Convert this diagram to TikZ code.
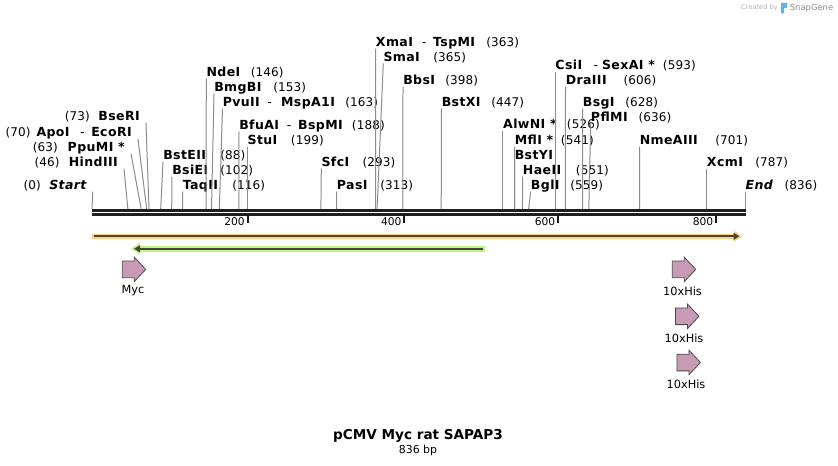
\documentclass[tikz,border=0pt]{standalone}
\usepackage{fontspec}
\setmainfont{DejaVu Sans}
\newfontfamily\numfont[LetterSpace=1]{DejaVu Sans}
\newfontfamily\enzfont[LetterSpace=3]{DejaVu Sans}
\usetikzlibrary{arrows.meta,positioning}

\definecolor{cutgray}{HTML}{8C8C8C}
\definecolor{barorange}{HTML}{FFCF85}
\definecolor{bargreen}{HTML}{BDF58A}
\definecolor{bardark}{HTML}{4A4538}
\definecolor{featpink}{HTML}{C99AB5}
\definecolor{featline}{HTML}{4A4A4A}
\definecolor{snapblue}{HTML}{5AB4E6}

\begin{document}
\begin{tikzpicture}[x=0.75pt,y=-0.75pt,
  enz/.style={font=\enzfont\fontsize{9.4}{11}\selectfont\bfseries, inner sep=0pt,
    text height=6.8pt, text depth=1.5pt, anchor=base west},
  enzl/.style={enz, anchor=base east, inner xsep=4.5pt},
  num/.style={font=\numfont\fontsize{9}{11}\selectfont, inner sep=0pt,
    text height=6.8pt, text depth=1.5pt, anchor=base west},
  cut/.style={cutgray, line width=0.75pt},
  backbone/.style={black!88, line width=2pt},
  rulertick/.style={black!90, line width=1.5pt},
  rulerlbl/.style={font=\fontsize{8}{10}\selectfont, inner sep=0pt, anchor=east},
  featarrow/.style={fill=featpink, draw=featline, line width=0.6pt},
  featlbl/.style={font=\fontsize{8.5}{10}\selectfont, inner sep=0pt}]

  \useasboundingbox (0,0) rectangle (838,466);

  % sites on the backbone
  \coordinate (c0)   at (92,209);
  \coordinate (c46)  at (127.9,209);
  \coordinate (c63)  at (141.2,209);
  \coordinate (c70)  at (146.7,209);
  \coordinate (c73)  at (149.0,209);
  \coordinate (c88)  at (160.7,209);
  \coordinate (c102) at (171.7,209);
  \coordinate (c116) at (182.6,209);
  \coordinate (c146) at (206.0,209);
  \coordinate (c153) at (211.5,209);
  \coordinate (c163) at (219.3,209);
  \coordinate (c188) at (238.8,209);
  \coordinate (c199) at (247.4,209);
  \coordinate (c293) at (320.9,209);
  \coordinate (c313) at (336.5,209);
  \coordinate (c363) at (375.5,209);
  \coordinate (c365) at (377.1,209);
  \coordinate (c398) at (402.9,209);
  \coordinate (c447) at (441.2,209);
  \coordinate (c526) at (502.9,209);
  \coordinate (c541) at (514.6,209);
  \coordinate (c551) at (522.4,209);
  \coordinate (c559) at (528.6,209);
  \coordinate (c593) at (555.2,209);
  \coordinate (c606) at (565.3,209);
  \coordinate (c628) at (582.5,209);
  \coordinate (c636) at (588.8,209);
  \coordinate (c701) at (639.6,209);
  \coordinate (c787) at (706.7,209);
  \coordinate (c836) at (745.3,209);

  % labels left of their line
  \draw (92.7,189.4) node[enzl] (start) {\itshape Start};
  \node[num, left=1.5pt of start] (startn) {(0)};
  \draw (124,166.4) node[enzl] (hind) {HindIII};
  \node[num, left=2pt of hind] (hindn) {(46)};
  \draw (131,151.4) node[enzl] (ppum) {PpuMI *};
  \node[num, left=2.5pt of ppum] (ppumn) {(63)};
  \draw (138,136.9) node[enzl] (apo2) {{\mdseries -}\hspace{5pt}EcoRI};
  \node[enz, left=3pt of apo2] (apo) {ApoI};
  \node[num, left=4pt of apo] (apon) {(70)};
  \draw (146,120.4) node[enzl] (bser) {BseRI};
  \node[num, left=1.5pt of bser] (bsern) {(73)};

  % labels right of their line
  \draw (163,159.4)   node[enz] (bste) {BstEII};
  \draw (220,159.4)   node[num] (bsten) {(88)};
  \draw (172,174.4)   node[enz] (bsie) {BsiEI};
  \draw (220,174.4)   node[num] (bsien) {(102)};
  \draw (182.5,189.4) node[enz] (taq) {TaqII};
  \draw (232,189.4)   node[num] (taqn) {(116)};
  \draw (206.3,76.1)  node[enz] (nde) {NdeI};
  \draw (250.5,76.1)  node[num] (nden) {(146)};
  \draw (214,91.1)    node[enz] (bmgb) {BmgBI};
  \draw (273,91.1)    node[num] (bmgbn) {(153)};
  \draw (222.5,106.1) node[enz] (pvu) {PvuII};
  \draw (267,106.1)   node[enz] (pvu2) {{\mdseries -}\hspace{7pt}MspA1I};
  \draw (345,106.1)   node[num] (pvun) {(163)};
  \draw (239,129.4)   node[enz] (bfua) {BfuAI};
  \draw (286.7,129.4) node[enz] (bfua2) {{\mdseries -}\hspace{5pt}BspMI};
  \draw (351.7,129.4) node[num] (bfuan) {(188)};
  \draw (247.4,144.4) node[enz] (stu) {StuI};
  \draw (290.7,144.4) node[num] (stun) {(199)};
  \draw (321.3,166.1) node[enz] (sfc) {SfcI};
  \draw (362.3,166.1) node[num] (sfcn) {(293)};
  \draw (336.7,189.4) node[enz] (pas) {PasI};
  \draw (380,189.4)   node[num] (pasn) {(313)};
  \draw (375.7,46.4)  node[enz] (xma) {XmaI};
  \draw (421.7,46.4)  node[enz] (xma2) {{\mdseries -}\hspace{5pt}TspMI};
  \draw (486,46.4)    node[num] (xman) {(363)};
  \draw (383.3,61.1)  node[enz] (sma) {SmaI};
  \draw (433,61.1)    node[num] (sman) {(365)};
  \draw (403,84.4)    node[enz] (bbs) {BbsI};
  \draw (445,84.4)    node[num] (bbsn) {(398)};
  \draw (441.5,106.1) node[enz] (bstx) {BstXI};
  \draw (491,106.1)   node[num] (bstxn) {(447)};
  \draw (502.9,128.7) node[enz] (alwn) {AlwNI *};
  \draw (566.7,128.7) node[num] (alwnn) {(526)};
  \draw (514.5,144.4) node[enz] (mfl) {MflI *};
  \draw (560.7,144.4) node[num] (mfln) {(541)};
  \draw (514.5,159.4) node[enz] (bsty) {BstYI};
  \draw (522.7,174.4) node[enz] (hae) {HaeII};
  \draw (575.7,174.4) node[num] (haen) {(551)};
  \draw (530.7,189.4) node[enz] (bgl) {BglI};
  \draw (570,189.4)   node[num] (bgln) {(559)};
  \draw (555.2,69.4)  node[enz] (csi) {CsiI};
  \draw (593.3,69.4)  node[enz] (csi2) {{\mdseries -}\hspace{3pt}SexAI *};
  \draw (662.7,69.4)  node[num] (csin) {(593)};
  \draw (565.5,84.4)  node[enz] (dra) {DraIII};
  \draw (623.3,84.4)  node[num] (dran) {(606)};
  \draw (582.6,106.1) node[enz] (bsg) {BsgI};
  \draw (625,106.1)   node[num] (bsgn) {(628)};
  \draw (590.7,121.7) node[enz] (pflm) {PflMI};
  \draw (638.3,121.7) node[num] (pflmn) {(636)};
  \draw (639.5,144.4) node[enz] (nme) {NmeAIII};
  \draw (715,144.4)   node[num] (nmen) {(701)};
  \draw (706.7,166.7) node[enz] (xcm) {XcmI};
  \draw (755,166.7)   node[num] (xcmn) {(787)};
  \draw (745.3,189.4) node[enz] (end) {\itshape End};
  \draw (784.3,189.4) node[num] (endn) {(836)};

  % cut lines
  \draw[cut] (c0)   -- (start.south east);
  \draw[cut] (c46)  -- (hind.south east);
  \draw[cut] (c63)  -- (ppum.south east);
  \draw[cut] (c70)  -- (apo2.south east);
  \draw[cut] (c73)  -- (bser.south east);
  \draw[cut] (c88)  -- (bste.south west);
  \draw[cut] (c102) -- (bsie.south west);
  \draw[cut] (c116) -- (taq.south west);
  \draw[cut] (c146) -- (nde.south west);
  \draw[cut] (c153) -- (bmgb.south west);
  \draw[cut] (c163) -- (pvu.south west);
  \draw[cut] (c188) -- (bfua.south west);
  \draw[cut] (c199) -- (stu.south west);
  \draw[cut] (c293) -- (sfc.south west);
  \draw[cut] (c313) -- (pas.south west);
  \draw[cut] (c363) -- (xma.south west);
  \draw[cut] (c365) -- (sma.south west);
  \draw[cut] (c398) -- (bbs.south west);
  \draw[cut] (c447) -- (bstx.south west);
  \draw[cut] (c526) -- (alwn.south west);
  \draw[cut] (c541) -- (mfl.south west);
  \draw[cut] (c541) -- (bsty.south west);
  \draw[cut] (c551) -- (hae.south west);
  \draw[cut] (c559) -- (bgl.south west);
  \draw[cut] (c593) -- (csi.south west);
  \draw[cut] (c606) -- (dra.south west);
  \draw[cut] (c628) -- (bsg.south west);
  \draw[cut] (c636) -- (pflm.south west);
  \draw[cut] (c701) -- (nme.south west);
  \draw[cut] (c787) -- (xcm.south west);
  \draw[cut] (c836) -- (end.south west);

  % backbone and ruler
  \draw[backbone] (92,210.3) -- (745.7,210.3);
  \draw[backbone] (92,214.7) -- (745.7,214.7);
  \draw[rulertick] (247.7,215.5) -- (247.7,222.7);
  \draw[rulertick] (404.3,215.5) -- (404.3,222.7);
  \draw[rulertick] (558.3,215.5) -- (558.3,222.7);
  \draw[rulertick] (716,215.5) -- (716,222.7);
  \draw (245,222) node[rulerlbl] (r200) {200};
  \draw (401.7,222) node[rulerlbl] (r400) {400};
  \draw (555.5,222) node[rulerlbl] (r600) {600};
  \draw (713.5,222) node[rulerlbl] (r800) {800};

  % features
  \draw[barorange, line width=3.4pt, -{Triangle[length=6.5pt,width=8pt]}] (92,236.3) -- (742.5,236.3);
  \draw[bardark, line width=1.5pt, -{Triangle[length=4.5pt,width=5.2pt]}] (93.5,236.3) -- (739.5,236.3);
  \draw[bargreen, line width=4.3pt, -{Triangle[length=6.5pt,width=8.5pt]}] (485,248.8) -- (131,248.8);
  \draw[bardark, line width=1.5pt, -{Triangle[length=4.5pt,width=5.2pt]}] (483,248.8) -- (134,248.8);

  \draw[featarrow] (122.3,261.05) -- ++(12,0) -- ++(0,-3.85) -- ++(11.4,12.2) -- ++(-11.4,12.2) -- ++(0,-3.85) -- ++(-12,0) -- cycle;
  \draw[featarrow] (672.3,261.05) -- ++(12,0) -- ++(0,-3.85) -- ++(11.4,12.2) -- ++(-11.4,12.2) -- ++(0,-3.85) -- ++(-12,0) -- cycle;
  \draw[featarrow] (675.5,307.95) -- ++(12,0) -- ++(0,-3.85) -- ++(11.4,12.2) -- ++(-11.4,12.2) -- ++(0,-3.85) -- ++(-12,0) -- cycle;
  \draw[featarrow] (677,354.15) -- ++(12,0) -- ++(0,-3.85) -- ++(11.4,12.2) -- ++(-11.4,12.2) -- ++(0,-3.85) -- ++(-12,0) -- cycle;
  \draw (133,291)   node[featlbl] (myc) {Myc};
  \draw (682.5,291) node[featlbl] (his1) {10xHis};
  \draw (684,338)   node[featlbl] (his2) {10xHis};
  \draw (686,384)   node[featlbl] (his3) {10xHis};

  % title
  \draw (418,436) node[font=\fontsize{10.2}{12}\selectfont\bfseries, inner sep=0pt] (title) {pCMV Myc rat SAPAP3};
  \draw (418,450) node[font=\fontsize{8.2}{10}\selectfont, inner sep=0pt] (size) {836 bp};

  % maker mark
  \draw (759.5,8) node[font=\fontsize{5}{6}\selectfont, text=black!30, inner sep=0pt] (created) {Created by};
  \fill[snapblue] (781,3) -- (787,3) -- (787,8) -- (784,8) -- (784,13.5) -- (781,13.5) -- cycle;
  \draw (811.5,8) node[font=\fontsize{6.3}{7}\selectfont, text=black!45, inner sep=0pt] (snapgene) {SnapGene};

\end{tikzpicture}
\end{document}
